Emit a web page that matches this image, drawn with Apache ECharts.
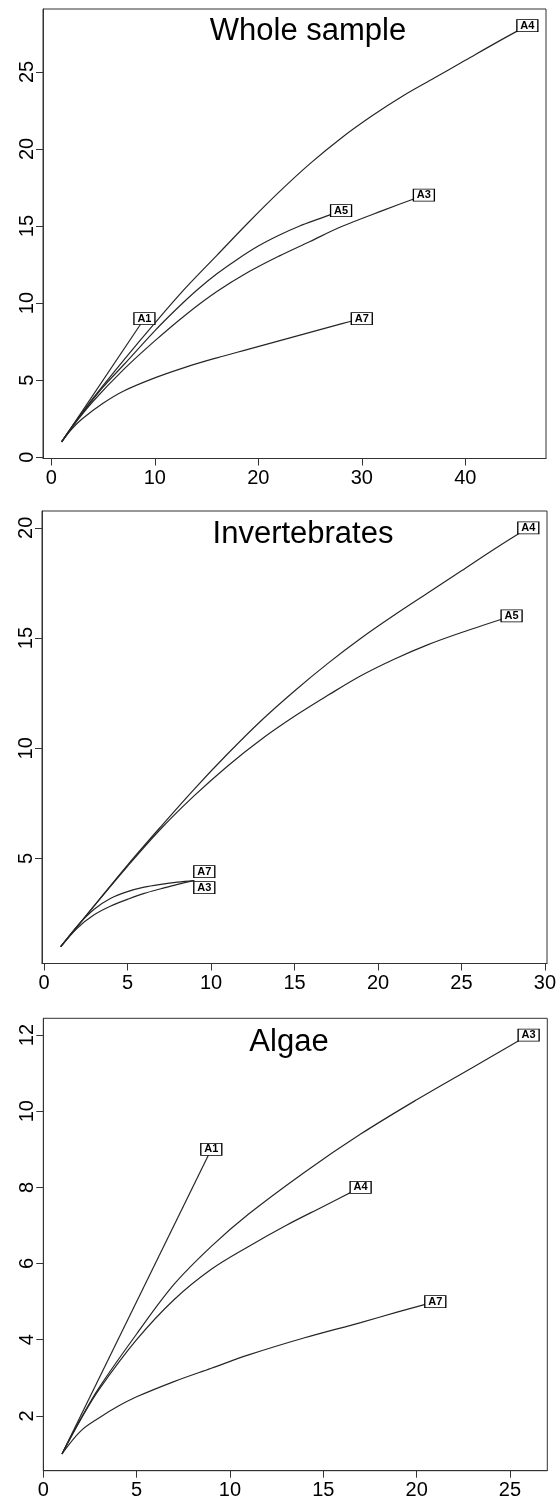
<!DOCTYPE html>
<html>
<head>
<meta charset="utf-8">
<script src="https://cdn.jsdelivr.net/npm/echarts@6/dist/echarts.min.js"></script>
<style>
    html, body { margin: 0; padding: 0; background: #fff; }
    #main { width: 560px; height: 1504px; }
</style>
</head>
<body>
<div id="main"></div>
<script>
// rarefaction curves, points are [individuals, species]
var wholeA1 = [[1, 1], [9, 9]];
var wholeA4 = [[1, 1], [2, 1.97], [4, 3.8], [7, 6.3], [10, 8.7], [13, 11.0], [16, 13.1], [19, 15.2], [22, 17.2], [25, 19.05], [28, 20.7], [31, 22.15], [34, 23.45], [37, 24.6], [40, 25.75], [43, 26.9], [46, 28]];
var wholeA5 = [[1, 1], [2, 1.96], [3, 2.88], [5, 4.55], [7, 6.0], [10, 8.2], [12, 9.55], [14, 10.8], [16, 11.9], [18, 12.85], [20, 13.7], [22, 14.4], [24, 15.0], [26, 15.5], [28, 16]];
var wholeA3 = [[1, 1], [2, 1.95], [4, 3.6], [7, 5.7], [10, 7.55], [13, 9.25], [16, 10.75], [19, 12.0], [22, 13.05], [25, 14.0], [28, 14.95], [32, 16.0], [36, 17]];
var wholeA7 = [[1, 1], [2, 1.85], [3, 2.5], [5, 3.5], [7, 4.3], [10, 5.15], [13, 5.85], [16, 6.45], [19, 7.0], [22, 7.55], [25, 8.1], [28, 8.65], [30, 9]];

var invA4 = [[1, 1], [3, 2.85], [5, 4.7], [7, 6.45], [9, 8.15], [11, 9.75], [13, 11.25], [15, 12.6], [17, 13.85], [19, 15.0], [21, 16.05], [23, 17.05], [25, 18.05], [27, 19.05], [29, 20]];
var invA5 = [[1, 1], [3, 2.85], [5, 4.65], [7, 6.35], [9, 7.85], [11, 9.2], [13, 10.4], [15, 11.45], [17, 12.4], [19, 13.3], [21, 14.05], [23, 14.7], [25, 15.25], [28, 16]];
var invA7 = [[1, 1], [2, 1.95], [3, 2.7], [4, 3.2], [5, 3.5], [6, 3.7], [7, 3.83], [8, 3.93], [9, 4]];
var invA3 = [[1, 1], [2, 1.85], [3, 2.45], [4, 2.85], [5, 3.15], [6, 3.42], [7, 3.63], [8, 3.83], [9, 4]];

var algA1 = [[1, 1], [9, 9]];
var algA3 = [[1, 1], [2, 1.92], [3, 2.75], [5, 4.15], [7, 5.45], [9, 6.45], [11, 7.3], [14, 8.4], [17, 9.4], [20, 10.3], [23, 11.15], [26, 12]];
var algA4 = [[1, 1], [2, 1.9], [3, 2.7], [5, 4.0], [7, 5.05], [9, 5.85], [11, 6.45], [13, 7.0], [15, 7.5], [17, 8]];
var algA7 = [[1, 1], [2, 1.6], [3, 1.95], [4, 2.25], [5, 2.5], [7, 2.9], [9, 3.25], [11, 3.6], [14, 4.05], [17, 4.45], [19, 4.73], [21, 5]];

var titles = ['Whole sample', 'Invertebrates', 'Algae'];
var wholeXTicks = [0, 10, 20, 30, 40];
var wholeYTicks = [0, 5, 10, 15, 20, 25];
var invXTicks = [0, 5, 10, 15, 20, 25, 30];
var invYTicks = [5, 10, 15, 20];
var algXTicks = [0, 5, 10, 15, 20, 25];
var algYTicks = [2, 4, 6, 8, 10, 12];

var FONT = '"Liberation Sans", Arial, sans-serif';
var INK = '#262626';

function makeGrid(left, top, width, height) {
    return {
        left: left, top: top, width: width, height: height,
        show: true, borderColor: '#333', borderWidth: 1,
        backgroundColor: 'transparent'
    };
}

function makeXAxis(idx, min, max, ticks) {
    return {
        gridIndex: idx, type: 'value', min: min, max: max,
        axisLine: {show: true, onZero: false, lineStyle: {color: '#333', width: 1}},
        axisTick: {show: true, length: 7, customValues: ticks, lineStyle: {color: '#333'}},
        axisLabel: {customValues: ticks, fontSize: 20, color: '#000', margin: 10, fontFamily: FONT},
        splitLine: {show: false}
    };
}

function makeYAxis(idx, min, max, ticks) {
    return {
        gridIndex: idx, type: 'value', min: min, max: max,
        axisLine: {show: true, onZero: false, lineStyle: {color: '#333', width: 1}},
        axisTick: {show: true, length: 7, customValues: ticks, lineStyle: {color: '#333'}},
        axisLabel: {customValues: ticks, fontSize: 20, color: '#000', margin: 6, rotate: 90, fontFamily: FONT},
        splitLine: {show: false}
    };
}

function curve(name, data, idx, offset) {
    return {
        name: name,
        type: 'line',
        xAxisIndex: idx,
        yAxisIndex: idx,
        data: data,
        smooth: 0.35,
        showSymbol: false,
        silent: true,
        lineStyle: {color: INK, width: 1.2},
        markPoint: {
            symbol: 'rect',
            symbolSize: [21, 12],
            symbolOffset: offset || [0, 0],
            z: 10,
            itemStyle: {color: '#fff', borderColor: '#000', borderWidth: 1},
            label: {
                show: true, position: 'inside', formatter: name,
                color: '#000', fontSize: 11, fontWeight: 'bold', fontFamily: FONT
            },
            data: [{coord: data[data.length - 1]}]
        }
    };
}

function title(text, x, y) {
    return {
        text: text, left: x, top: y, textAlign: 'center', padding: 0,
        textStyle: {fontSize: 31, fontWeight: 'normal', color: '#000', fontFamily: FONT}
    };
}

var myChart = echarts.init(document.getElementById('main'), null, {renderer: 'canvas'});
var option = {
    backgroundColor: '#fff',
    animation: false,
    title: [
        title(titles[0], 308, 16),
        title(titles[1], 303, 519),
        title(titles[2], 289, 1027)
    ],
    grid: [
        makeGrid(43, 9, 503, 449.5),
        makeGrid(42, 511, 505, 452.5),
        makeGrid(43.3, 1018.3, 504, 452.4)
    ],
    xAxis: [
        makeXAxis(0, -0.8, 47.8, wholeXTicks),
        makeXAxis(1, -0.12, 30.12, invXTicks),
        makeXAxis(2, 0, 27, algXTicks)
    ],
    yAxis: [
        makeYAxis(0, -0.08, 29.08, wholeYTicks),
        makeYAxis(1, 0.24, 20.76, invYTicks),
        makeYAxis(2, 0.56, 12.44, algYTicks)
    ],
    series: [
        curve('A1', wholeA1, 0),
        curve('A4', wholeA4, 0),
        curve('A5', wholeA5, 0),
        curve('A3', wholeA3, 0),
        curve('A7', wholeA7, 0),
        curve('A4', invA4, 1),
        curve('A5', invA5, 1),
        curve('A7', invA7, 1, [10, -9]),
        curve('A3', invA3, 1, [10, 7]),
        curve('A1', algA1, 2),
        curve('A3', algA3, 2),
        curve('A4', algA4, 2),
        curve('A7', algA7, 2)
    ]
};
myChart.setOption(option);
</script>
</body>
</html>
